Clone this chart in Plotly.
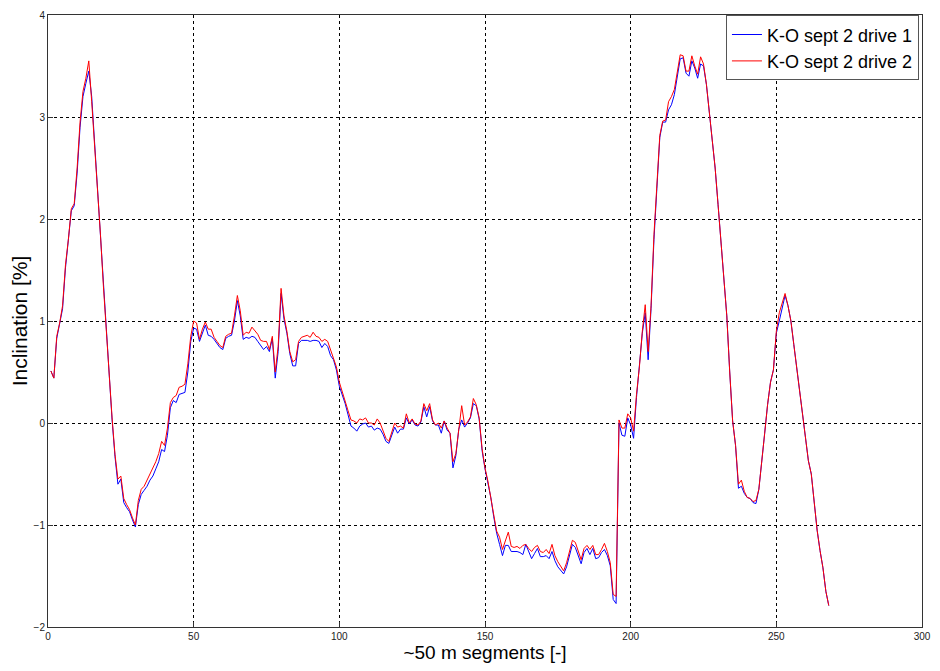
import plotly.graph_objects as go

# Segment index (~50 m each)
segments = list(range(1, 269))

# Inclination [%], drive 1
drive1 = [
    0.51, 0.44, 0.83, 0.96, 1.12, 1.52, 1.78, 2.08, 2.13, 2.45,
    2.90, 3.20, 3.33, 3.45, 3.20, 2.75, 2.25, 1.85, 1.35, 0.90,
    0.45, 0.03, -0.33, -0.60, -0.55, -0.78, -0.83, -0.87, -0.95, -1.02,
    -0.80, -0.70, -0.66, -0.62, -0.56, -0.52, -0.45, -0.38, -0.26, -0.28,
    -0.12, 0.15, 0.22, 0.20, 0.28, 0.29, 0.30, 0.50, 0.80, 0.93,
    0.92, 0.80, 0.88, 0.96, 0.86, 0.85, 0.82, 0.78, 0.74, 0.72,
    0.83, 0.85, 0.86, 1.00, 1.20, 1.05, 0.82, 0.84, 0.83, 0.85,
    0.84, 0.80, 0.76, 0.72, 0.75, 0.70, 0.83, 0.44, 0.70, 1.27,
    1.02, 0.88, 0.68, 0.56, 0.56, 0.78, 0.81, 0.81, 0.81, 0.80,
    0.81, 0.81, 0.80, 0.74, 0.78, 0.75, 0.66, 0.62, 0.52, 0.36,
    0.28, 0.19, 0.08, -0.03, -0.05, -0.08, -0.03, -0.01, 0.00, -0.04,
    -0.03, -0.07, -0.05, -0.06, -0.11, -0.18, -0.20, -0.12, -0.04, -0.10,
    -0.06, -0.06, 0.05, -0.01, 0.03, -0.02, -0.03, 0.01, 0.16, 0.06,
    0.16, 0.02, -0.02, -0.02, -0.10, 0.02, -0.07, -0.10, -0.44, -0.32,
    -0.06, 0.03, -0.04, 0.00, 0.05, 0.19, 0.17, 0.04, -0.27, -0.45,
    -0.58, -0.73, -0.92, -1.08, -1.19, -1.30, -1.20, -1.20, -1.26, -1.26,
    -1.26, -1.27, -1.29, -1.19, -1.26, -1.33, -1.28, -1.23, -1.31, -1.31,
    -1.30, -1.33, -1.26, -1.35, -1.41, -1.44, -1.48, -1.41, -1.31, -1.19,
    -1.22, -1.31, -1.38, -1.27, -1.23, -1.29, -1.23, -1.33, -1.32, -1.27,
    -1.24, -1.30, -1.40, -1.73, -1.77, 0.00, -0.12, -0.13, 0.05, -0.02,
    -0.15, 0.25, 0.55, 0.88, 1.08, 0.62, 1.12, 1.80, 2.30, 2.80,
    2.95, 2.95, 3.07, 3.12, 3.22, 3.40, 3.57, 3.58, 3.43, 3.40,
    3.55, 3.48, 3.38, 3.52, 3.50, 3.32, 3.06, 2.78, 2.50, 2.14,
    1.78, 1.45, 1.05, 0.50, 0.02, -0.22, -0.64, -0.62, -0.69, -0.73,
    -0.74, -0.78, -0.79, -0.65, -0.40, -0.10, 0.18, 0.40, 0.52, 0.88,
    1.00, 1.12, 1.25, 1.15, 1.00, 0.77, 0.55, 0.31, 0.10, -0.15,
    -0.37, -0.50, -0.80, -1.05, -1.25, -1.42, -1.65, -1.79,
]

# Inclination [%], drive 2
drive2 = [
    0.51, 0.44, 0.85, 0.98, 1.15, 1.55, 1.80, 2.10, 2.15, 2.50,
    2.95, 3.25, 3.38, 3.55, 3.15, 2.75, 2.25, 1.85, 1.35, 0.90,
    0.45, 0.05, -0.31, -0.55, -0.52, -0.74, -0.80, -0.85, -0.93, -1.00,
    -0.76, -0.65, -0.62, -0.56, -0.50, -0.43, -0.38, -0.30, -0.18, -0.22,
    -0.05, 0.20, 0.25, 0.27, 0.35, 0.36, 0.38, 0.58, 0.85, 1.00,
    0.98, 0.82, 0.92, 0.99, 0.92, 0.92, 0.84, 0.80, 0.76, 0.74,
    0.85, 0.87, 0.88, 1.05, 1.25, 1.10, 0.86, 0.89, 0.88, 0.94,
    0.90, 0.87, 0.81, 0.80, 0.80, 0.72, 0.85, 0.50, 0.75, 1.32,
    1.05, 0.90, 0.70, 0.60, 0.62, 0.80, 0.84, 0.85, 0.86, 0.84,
    0.89, 0.85, 0.84, 0.80, 0.82, 0.80, 0.72, 0.65, 0.55, 0.40,
    0.30, 0.22, 0.12, 0.03, 0.02, 0.00, 0.04, 0.03, 0.05, 0.00,
    0.00, -0.02, 0.04, 0.00, -0.08, -0.15, -0.18, -0.08, 0.00, -0.04,
    -0.03, -0.05, 0.09, 0.00, 0.04, -0.01, -0.02, 0.02, 0.19, 0.12,
    0.19, 0.03, -0.02, 0.00, -0.05, 0.02, -0.05, -0.10, -0.38, -0.30,
    -0.04, 0.17, -0.02, 0.01, 0.06, 0.24, 0.18, 0.05, -0.25, -0.44,
    -0.57, -0.72, -0.90, -1.06, -1.12, -1.24, -1.15, -1.07, -1.21, -1.22,
    -1.21, -1.23, -1.20, -1.19, -1.23, -1.26, -1.22, -1.20, -1.26, -1.27,
    -1.24, -1.28, -1.19, -1.30, -1.36, -1.40, -1.45, -1.37, -1.27, -1.15,
    -1.17, -1.26, -1.34, -1.23, -1.20, -1.24, -1.20, -1.29, -1.29, -1.24,
    -1.18, -1.26, -1.37, -1.68, -1.70, 0.03, -0.05, -0.05, 0.09, 0.05,
    -0.08, 0.28, 0.55, 0.90, 1.16, 0.70, 1.15, 1.85, 2.35, 2.82,
    2.96, 2.97, 3.15, 3.20, 3.27, 3.45, 3.61, 3.60, 3.45, 3.45,
    3.60, 3.50, 3.42, 3.59, 3.52, 3.32, 3.06, 2.78, 2.50, 2.14,
    1.78, 1.45, 1.05, 0.50, 0.02, -0.22, -0.60, -0.56, -0.67, -0.73,
    -0.74, -0.77, -0.76, -0.65, -0.40, -0.10, 0.18, 0.40, 0.52, 0.90,
    1.08, 1.18, 1.27, 1.15, 1.00, 0.77, 0.55, 0.31, 0.10, -0.15,
    -0.37, -0.50, -0.80, -1.05, -1.25, -1.42, -1.65, -1.79,
]

x_ticks = [0, 50, 100, 150, 200, 250, 300]
y_ticks = [-2, -1, 0, 1, 2, 3, 4]

font_family = "Liberation Sans, Arial, sans-serif"

fig = go.Figure()
fig.add_trace(go.Scatter(
    x=segments, y=drive1, mode="lines", name="K-O sept 2 drive 1",
    line=dict(color="#0000ff", width=1),
))
fig.add_trace(go.Scatter(
    x=segments, y=drive2, mode="lines", name="K-O sept 2 drive 2",
    line=dict(color="#ff0000", width=1),
))

axis_common = dict(
    showline=True, linecolor="#333333", linewidth=1, mirror=True,
    ticks="inside", ticklen=5, tickcolor="#333333",
    showgrid=True, gridcolor="#000000", griddash="dot", gridwidth=1,
    zeroline=False,
    tickfont=dict(family=font_family, size=10, color="#222222"),
)

fig.update_layout(
    width=940, height=671,
    margin=dict(l=48, r=9, t=11, b=44),
    paper_bgcolor="#ffffff", plot_bgcolor="#ffffff",
    font=dict(family=font_family, color="#000000"),
    showlegend=True,
    legend=dict(
        x=0.9965, y=0.9995, xanchor="right", yanchor="top",
        bgcolor="#ffffff", bordercolor="#555555", borderwidth=1,
        font=dict(family=font_family, size=18, color="#000000"),
        tracegroupgap=0, itemwidth=30,
    ),
    xaxis=dict(
        range=[0, 300], tickvals=x_ticks,
        title=dict(text="~50 m segments [-]", standoff=3,
                   font=dict(family=font_family, size=19)),
        **axis_common,
    ),
    yaxis=dict(
        range=[-2, 4], tickvals=y_ticks,
        title=dict(text="Inclination [%]", standoff=0,
                   font=dict(family=font_family, size=21)),
        **axis_common,
    ),
)

fig.write_html("out.html")
